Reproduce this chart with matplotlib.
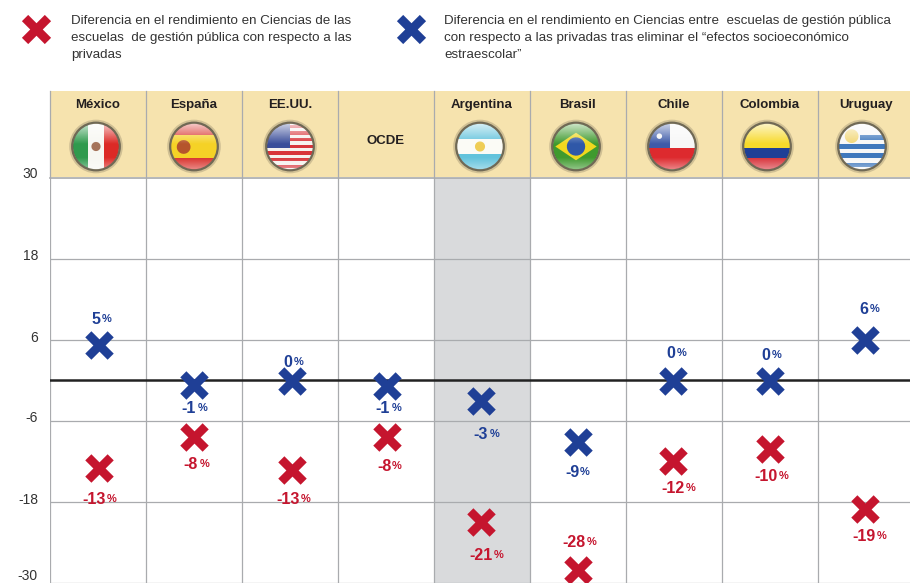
### PISA: diferencia de rendimiento en Ciencias, escuelas públicas vs privadas

import matplotlib
matplotlib.use("Agg")
import matplotlib.pyplot as plt
import numpy as np
from matplotlib.patches import Circle, Rectangle, Polygon
from matplotlib.path import Path

plt.rcParams["font.family"] = ["Liberation Sans", "DejaVu Sans"]

paises = ["México", "España", "EE.UU.", "OCDE", "Argentina", "Brasil", "Chile", "Colombia", "Uruguay"]
dif_bruta = [-13.0, -8.4, -13.3, -8.4, -21.0, -28.1, -12.0, -10.2, -19.1]
dif_neta = [5.2, -0.8, -0.2, -0.9, -3.1, -9.2, -0.2, -0.2, 5.9]
etiq_bruta = ["-13", "-8", "-13", "-8", "-21", "-28", "-12", "-10", "-19"]
etiq_neta = ["5", "-1", "0", "-1", "-3", "-9", "0", "0", "6"]
yticks = [30, 18, 6, -6, -18, -30]

legend_rojo = "Diferencia en el rendimiento en Ciencias de las\nescuelas  de gestión pública con respecto a las\nprivadas"
legend_azul = ("Diferencia en el rendimiento en Ciencias entre  escuelas de gestión pública\n"
               "con respecto a las privadas tras eliminar el “efectos socioeconómico\nestraescolar”")

ROJO = "#c5152e"
AZUL = "#1f3f96"
GRIS = "#a9abae"
CREMA = "#f6e3ae"
W, H = 910, 583

### marcador en forma de X gruesa
t = 0.43
cruz = Path([(-1, -1 + t), (-t, 0), (-1, 1 - t), (-1 + t, 1), (0, t), (1 - t, 1), (1, 1 - t), (t, 0),
             (1, -1 + t), (1 - t, -1), (0, -t), (-1 + t, -1), (-1, -1 + t)], closed=True)

fig = plt.figure(figsize=(9.1, 5.83), dpi=100)

### area del grafico
ax = fig.add_axes([50 / W, 0, 1 - 50 / W, (583 - 177.5) / H])
ax.set_xlim(0, (W - 50) / 96)
ax.set_ylim(-30.07, 30)
for s in ax.spines.values():
    s.set_visible(False)
ax.set_xticks([])
ax.set_yticks([])
ax.axvspan(4, 5, color="#d9dadc", lw=0, zorder=0)
for v in yticks:
    ax.axhline(v, color=GRIS, lw=0.9, zorder=1)
for i in range(0, 9):
    ax.axvline(i, color=GRIS, lw=0.9, zorder=1)
ax.axhline(0, color="#222222", lw=1.8, zorder=2)

xs = np.arange(len(paises)) + 0.5
### los marcadores no estan del todo centrados en su columna
desv_px = np.array([1, 0, 2, 1, -1, 0, -1, 0, -1])
xm = xs + desv_px / 96
ax.plot(xm, dif_bruta, ls="none", marker=cruz, ms=20.5, mfc=ROJO, mec="none", zorder=3)
ax.plot(xm, dif_neta, ls="none", marker=cruz, ms=20.5, mfc=AZUL, mec="none", zorder=3)

### etiquetas de valor (desplazamiento en pixeles desde el marcador)
off_bruta = [32, 28, 30, 30, 34, -27, 27, 28, 28]
off_neta = [-25, 23, -19, 22, 34, 30, -28, -26, -31]
dx_bruta = [1, 2, 3, 3, 4, 1, 4, 1, 3]
dx_neta = [3, 0, 3, 2, 4, -1, 2, 1, 3]


def etiqueta(x, y, txt, dx, dy, col):
    px = 0.72
    a = ax.annotate(txt, (x, y), xytext=(dx * px, -dy * px), textcoords="offset points",
                    ha="center", va="center", color=col, fontsize=11.5, fontweight="bold", zorder=4)
    fig.canvas.draw()
    bb = a.get_window_extent()
    ax.annotate("%", (x, y), xytext=((dx + bb.width / 2 + 1) * px, -(dy - 0.5) * px), textcoords="offset points",
                ha="center", va="center", color=col, fontsize=8, fontweight="bold", zorder=4)
    a.set_position(((dx - 5) * px, -dy * px))


for i in range(len(paises)):
    etiqueta(xs[i], dif_bruta[i], etiq_bruta[i], dx_bruta[i], off_bruta[i], ROJO)
    etiqueta(xs[i], dif_neta[i], etiq_neta[i], dx_neta[i], off_neta[i], AZUL)

### capa superior en pixeles: cabecera, banderas, leyenda
top = fig.add_axes([0, 0, 1, 1], facecolor="none", zorder=5)
top.set_xlim(0, W)
top.set_ylim(H, 0)
top.axis("off")

top.add_patch(Rectangle((50, 91), W - 50, 86, fc=CREMA, ec="none", zorder=0))
top.plot([50, W], [177.5, 177.5], color=GRIS, lw=1.2, zorder=1)
for i in range(0, 9):
    top.plot([50 + 96 * i] * 2, [91, 177], color=GRIS, lw=0.9, zorder=1)

for i, nombre in enumerate(paises):
    cy = 141 if nombre == "OCDE" else 105
    top.text(50 + 96 * i + 48, cy, nombre, ha="center", va="center", fontsize=9.5,
             fontweight="bold", color="#231f20", zorder=3)

for v in yticks:
    y = 380 - v * 6.75
    top.text(38, 174 if v == 30 else min(y - 2, 576), str(v), ha="right", va="center", fontsize=10, color="#333333")


### banderas: franjas recortadas a un circulo con brillo encima
def bandera(cx, franjas, extras=()):
    cy = 146.5
    r = 23
    clip = Circle((cx, cy), r, transform=top.transData)
    artistas = []
    for y0, y1, x0, x1, col in franjas:
        artistas.append(top.add_patch(Rectangle((cx + x0 * r, cy + y0 * r), (x1 - x0) * r, (y1 - y0) * r,
                                                fc=col, ec="none", zorder=3)))
    for pts, col in extras:
        artistas.append(top.add_patch(Polygon([(cx + a * r, cy + b * r) for a, b in pts], fc=col, ec="none", zorder=4)))
    for a in artistas:
        a.set_clip_path(clip)
    ### brillo superior y sombra inferior
    rampa = np.linspace(0, 1, 64)[:, None]
    g = np.ones((64, 4, 4))
    g[:, :, 3] = np.clip(0.75 * (1 - rampa * 2.2), 0, 1)
    im = top.imshow(g, extent=(cx - r, cx + r, cy + r, cy - r), zorder=5, aspect="auto", interpolation="bilinear")
    im.set_clip_path(Circle((cx, cy), r, transform=top.transData))
    g2 = np.ones((64, 4, 4))
    g2[:, :, 3] = np.clip((rampa - 0.75) * 1.6, 0, 1)
    im2 = top.imshow(g2, extent=(cx - r, cx + r, cy + r, cy - r), zorder=5, aspect="auto", interpolation="bilinear")
    im2.set_clip_path(Circle((cx, cy), r, transform=top.transData))
    top.add_patch(Circle((cx, cy), r + 2, fc="none", ec="#8a7f66", lw=2.6, zorder=5.5, alpha=0.35))
    top.add_patch(Circle((cx, cy), r + 0.8, fc="none", ec="#5f5a4a", lw=1.6, zorder=6, alpha=0.85))


def circ(x, y, rr, n=24):
    ang = np.linspace(0, 2 * np.pi, n)
    return list(zip(x + rr * np.cos(ang), y + rr * np.sin(ang)))


bandera(96, [(-1, 1, -1, -0.33, "#2f9a4d"), (-1, 1, -0.33, 0.33, "#f7f7f2"), (-1, 1, 0.33, 1, "#dc2a26")],
        [(circ(0, 0, 0.2), "#a5735a")])
bandera(194, [(-1, -0.5, -1, 1, "#d8322c"), (-0.5, 0.5, -1, 1, "#f5d226"), (0.5, 1, -1, 1, "#d8322c")],
        [(circ(-0.45, 0.02, 0.3), "#b5552c")])
us = [(-1, 1, -1, 1, "#f5f1ee")]
for k in range(7):
    us.append((-0.95 + k * 0.29, -0.95 + k * 0.29 + 0.14, -1, 1, "#d8343a"))
us.append((-1, 0.05, -1, 0.0, "#3a4d9a"))
bandera(290, us)
bandera(480, [(-1, -0.33, -1, 1, "#62c3dc"), (-0.33, 0.33, -1, 1, "#fbfbf6"), (0.33, 1, -1, 1, "#62c3dc")],
        [(circ(0, 0, 0.22), "#efcd55")])
bandera(576, [(-1, 1, -1, 1, "#3f9a2e")],
        [([(-0.9, 0), (0, -0.6), (0.9, 0), (0, 0.6)], "#f0d81e"), (circ(0, 0, 0.4), "#2f58a8")])
bandera(672, [(-1, 0.05, -1, 1, "#f7f7f7"), (0.05, 1, -1, 1, "#dd2a2e"), (-1, 0.05, -1, -0.1, "#3d5aa8")],
        [(circ(-0.55, -0.45, 0.12), "#f7f7f7")])
bandera(767, [(-1, 0.05, -1, 1, "#f7d92a"), (0.05, 0.5, -1, 1, "#1f3f96"), (0.5, 1, -1, 1, "#d8323a")])
uy = [(-1, 1, -1, 1, "#f7f7f7")]
for k in range(4):
    uy.append((-0.5 + k * 0.4, -0.5 + k * 0.4 + 0.2, -0.1 if k == 0 else -1, 1, "#3f78bd"))
bandera(862, uy, [(circ(-0.45, -0.45, 0.3), "#f2d777")])

### leyenda
top.plot([36], [28.5], ls="none", marker=cruz, ms=21, mfc=ROJO, mec="none")
top.plot([411], [28.5], ls="none", marker=cruz, ms=21, mfc=AZUL, mec="none")
top.text(71, 38, legend_rojo, ha="left", va="center", fontsize=9.6, color="#333333", linespacing=1.6)
top.text(444, 38, legend_azul, ha="left", va="center", fontsize=9.6, color="#333333", linespacing=1.6)
top.set_xlim(0, W)
top.set_ylim(H, 0)

fig.savefig("out.png", dpi=100)
